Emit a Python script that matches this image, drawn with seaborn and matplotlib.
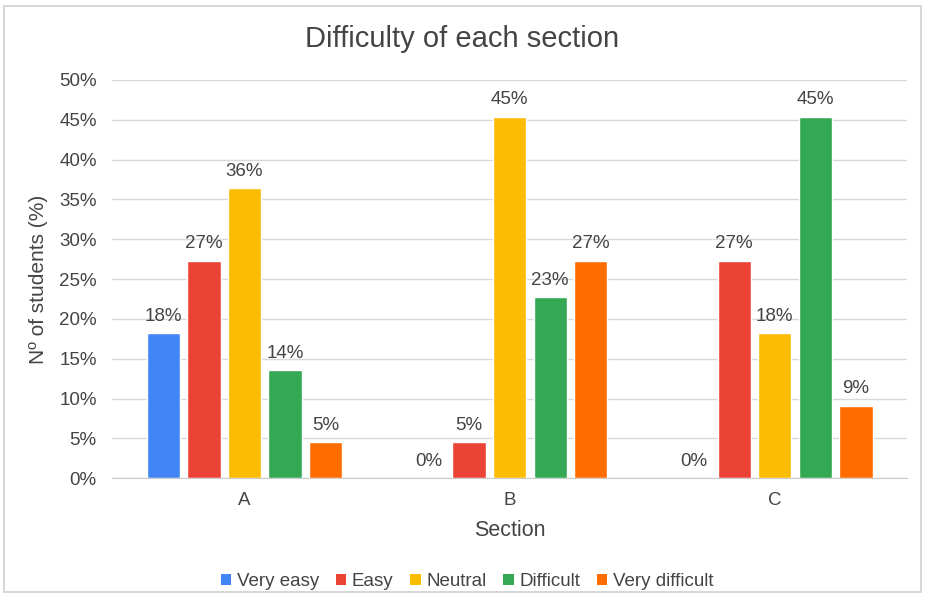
import matplotlib
matplotlib.use("Agg")
import matplotlib.pyplot as plt
from matplotlib.patches import Rectangle, Patch
import seaborn as sns
import pandas as pd

sections = ["A", "B", "C"]
levels = ["Very easy", "Easy", "Neutral", "Difficult", "Very difficult"]
colors = ["#4285F4", "#EA4335", "#FBBC04", "#34A853", "#FF6D01"]

# percent of students per section, per difficulty level
very_easy = [18.2, 0.0, 0.0]
easy = [27.3, 4.5, 27.3]
neutral = [36.4, 45.4, 18.2]
difficult = [13.6, 22.7, 45.4]
very_difficult = [4.5, 27.3, 9.1]

series = [very_easy, easy, neutral, difficult, very_difficult]
rows = []
for lev, vals in zip(levels, series):
    for sec, v in zip(sections, vals):
        rows.append({"Section": sec, "Level": lev, "Pct": v})
df = pd.DataFrame(rows)

sns.set_style("white")
plt.rcParams["font.family"] = ["Liberation Sans", "DejaVu Sans"]
txt = "#444444"

fig = plt.figure(figsize=(9.25, 5.97), dpi=100)
ax = fig.add_axes([0.121, 0.199, 0.860, 0.667])

sns.barplot(data=df, x="Section", y="Pct", hue="Level", hue_order=levels,
            palette=colors, width=0.765, gap=0.18, saturation=1,
            legend=False, ax=ax)

for cont in ax.containers:
    ax.bar_label(cont, labels=[f"{int(b.get_height() + 0.5)}%" for b in cont],
                 padding=6, fontsize=13.5, color=txt)

ax.set_ylim(0, 50)
ax.set_xlim(-0.5, 2.5)
ax.set_yticks(range(0, 51, 5))
ax.set_yticklabels([f"{t}%" for t in range(0, 51, 5)])
ax.yaxis.grid(True, color="#d9d9d9", linewidth=1)
ax.set_axisbelow(True)
for s in ["top", "right", "left"]:
    ax.spines[s].set_visible(False)
ax.spines["bottom"].set_color("#cccccc")
ax.tick_params(axis="both", length=0, labelsize=13.5, colors=txt, pad=10)
ax.tick_params(axis="y", pad=11)

ax.set_xlabel("Section", fontsize=15.5, color=txt, labelpad=8)
ax.set_ylabel("Nº of students (%)", fontsize=15, color=txt, labelpad=8)
fig.text(0.5, 0.935, "Difficulty of each section", ha="center", va="center",
         fontsize=21, color=txt)

handles = [Patch(facecolor=c, edgecolor="none") for c in colors]
fig.legend(handles, levels, loc="center", bbox_to_anchor=(0.505, 0.026),
           ncol=5, frameon=False, fontsize=13.5, handlelength=0.55,
           handleheight=0.55, handletextpad=0.3, columnspacing=0.9,
           labelcolor=txt)

fig.patches.append(Rectangle((0.004, 0.008), 0.992, 0.982, transform=fig.transFigure,
                             fill=False, edgecolor="#d0d0d0", linewidth=1.2))

fig.savefig("out.png", dpi=100)
